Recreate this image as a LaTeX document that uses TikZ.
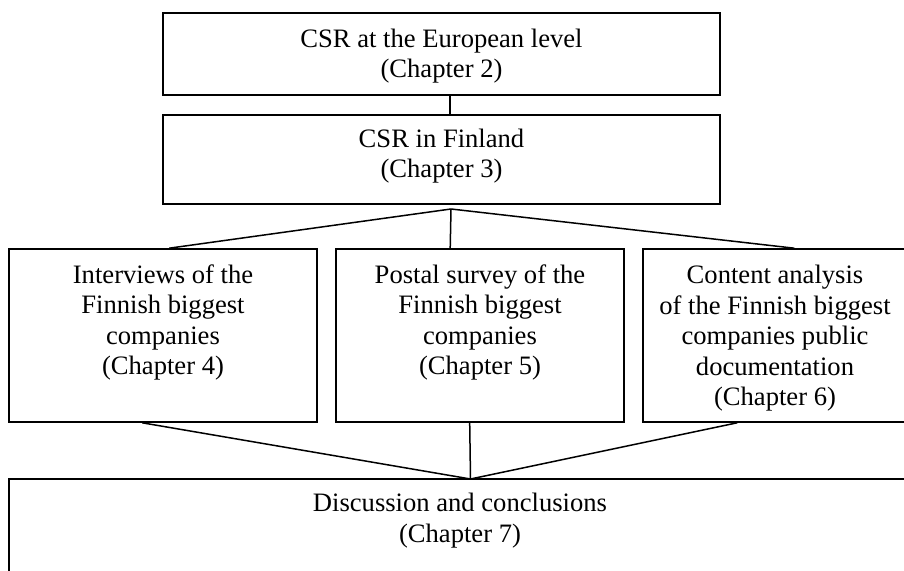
\documentclass[tikz,border=0pt]{standalone}
\usepackage{fontspec}
\setmainfont{Liberation Serif}
\usetikzlibrary{calc}
\tikzset{
  box/.style={draw=black, line width=1.6pt, rectangle, inner sep=0pt, minimum width=#1},
  lbl/.style={align=center, anchor=base, inner sep=0pt, font=\fontsize{26.6}{30.5}\selectfont},
  conn/.style={draw=black, line width=1.5pt}
}
\begin{document}
\begin{tikzpicture}[x=1pt,y=1pt]
\useasboundingbox (0,0) rectangle (904,570);
\clip (0,0) rectangle (904,570);
% boxes
\node[box=557pt, minimum height=82pt] (b1) at (441.5,516) {};
\node[box=557pt, minimum height=89pt] (b2) at (441.5,410.5) {};
\node[box=308pt, minimum height=173pt] (b3) at (163,234.5) {};
\node[box=288pt, minimum height=173pt] (b4) at (480,234.5) {};
\node[box=282pt, minimum height=173pt] (b5) at (784,234.5) {};
\node[box=916pt, minimum height=111pt] (b6) at (467,35.5) {};
% texts (anchored at the baseline of their last line)
\node[lbl] (t1) at (441.5,492) {CSR at the European level\\(Chapter 2)};
\node[lbl] (t2) at (441.5,392) {CSR in Finland\\(Chapter 3)};
\node[lbl] (t3) at (163,195) {Interviews of the\\Finnish biggest\\companies\\(Chapter 4)};
\node[lbl] (t4) at (480,195) {Postal survey of the\\Finnish biggest\\companies\\(Chapter 5)};
\node[lbl] (t5) at (775,164) {Content analysis\\of the Finnish biggest\\companies public\\documentation\\(Chapter 6)};
\node[lbl] (t6) at (460,28) {Discussion and conclusions\\(Chapter 7)};
% connectors
\coordinate (A) at (451,361);
\coordinate (B) at (470.5,91);
\draw[conn] ($(b1.south west)+(288,0)$) -- ($(b2.north west)+(288,0)$);
\draw[conn] (A) -- ($(b3.north west)+(161,0)$);
\draw[conn] (A) -- ($(b4.north west)+(115,0)$);
\draw[conn] (A) -- ($(b5.north west)+(152,0)$);
\draw[conn] ($(b3.south west)+(134,0)$) -- (B);
\draw[conn] ($(b4.south west)+(134.5,0)$) -- (B);
\draw[conn] ($(b5.south west)+(95,0)$) -- (B);
\end{tikzpicture}
\end{document}
